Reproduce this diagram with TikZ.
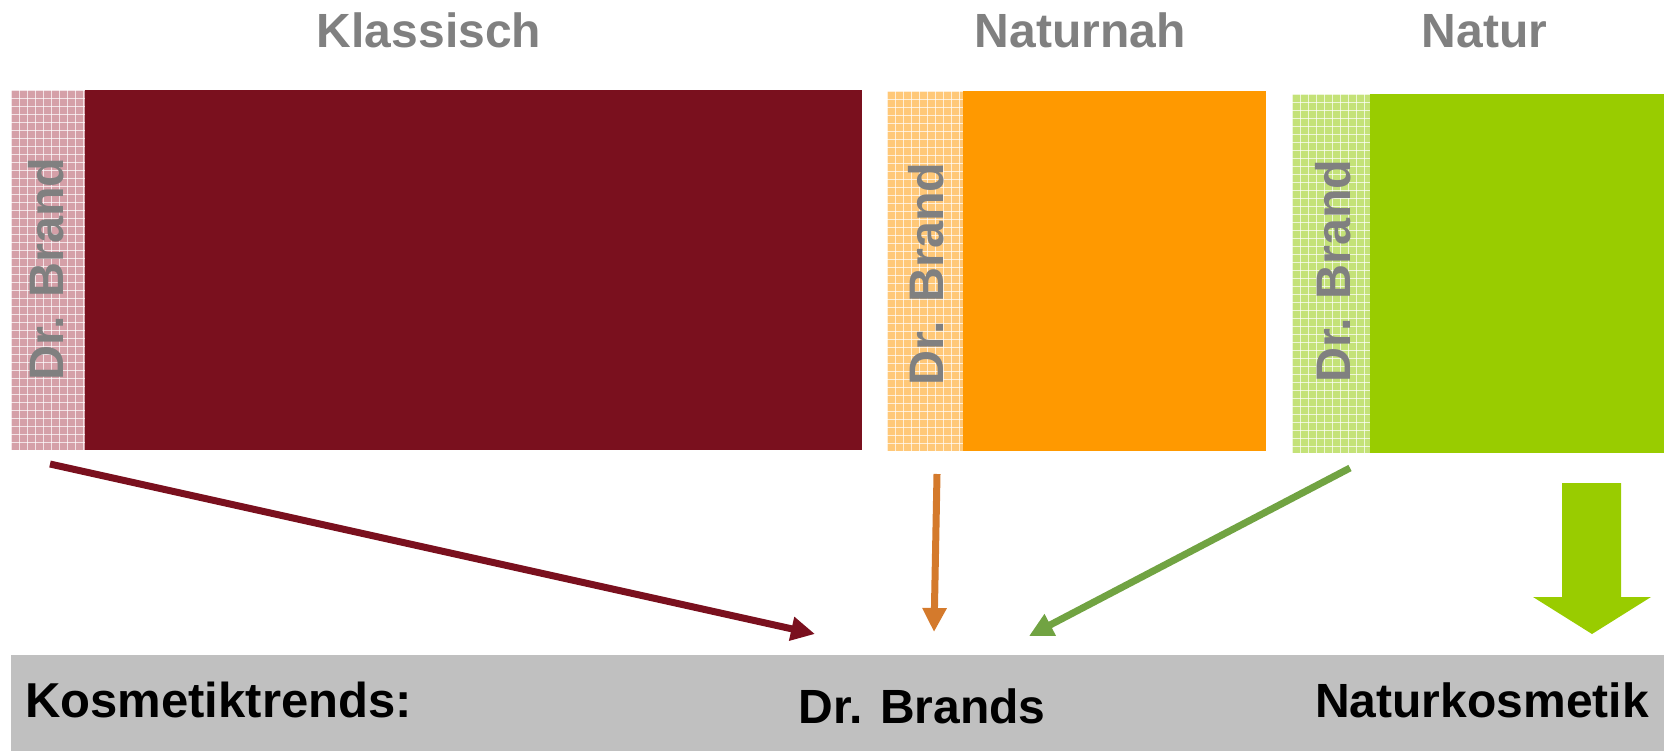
\documentclass[tikz,border=0pt]{standalone}
\usepackage{fontspec}
\setmainfont{Liberation Sans}
\usetikzlibrary{arrows.meta}
\definecolor{kred}{HTML}{7A101E}
\definecolor{korange}{HTML}{FF9900}
\definecolor{kgreen}{HTML}{99CC00}
\definecolor{kgray}{HTML}{808080}
\definecolor{kbar}{HTML}{C0C0C0}
\definecolor{pred}{HTML}{D5A0A8}
\definecolor{porange}{HTML}{FFC878}
\definecolor{pgreen}{HTML}{C4E278}
\definecolor{aorange}{HTML}{D47A2C}
\definecolor{agreen}{HTML}{71A342}
\newcommand\kpatstrip[5]{%
  \begin{scope}
    \clip (#1,#2) rectangle (#3,#4);
    \fill[#5] (#1,#2) rectangle (#3,#4);
    \foreach \xx in {0,8,...,96} {\draw[white,line width=0.8pt,opacity=0.7] ({#1+\xx},#2) -- ({#1+\xx},#4);}
    \foreach \yy in {0,8,...,368} {\draw[white,line width=0.8pt,opacity=0.7] (#1,{#2+\yy}) -- (#3,{#2+\yy});}
  \end{scope}}
\begin{document}
\begin{tikzpicture}[x=1pt,y=-1pt,
  title/.style={font=\fontsize{48}{50}\selectfont\bfseries,text=kgray,anchor=base,inner sep=0pt},
  brand/.style={font=\fontsize{48.5}{50}\selectfont\bfseries,text=kgray,anchor=base,rotate=90,inner sep=0pt},
  bottom/.style={font=\fontsize{48}{50}\selectfont\bfseries,text=black,inner sep=0pt},
  thinarrow/.style={line width=7pt,-{Triangle[length=24pt,width=23pt]}}]
\useasboundingbox (0,0) rectangle (1664,751);
% bar
\fill[kbar] (11,655) rectangle (1664,751);
% blocks
\kpatstrip{11}{90}{85}{450}{pred}
\fill[kred] (85,90) rectangle (862,450);
\kpatstrip{887}{91}{963}{451}{porange}
\fill[korange] (963,91) rectangle (1266,451);
\kpatstrip{1292}{94}{1370}{453}{pgreen}
\fill[kgreen] (1370,94) rectangle (1664,453);
% titles
\node[title] (t1) at (429,48) {Klassisch};
\node[title] (t2) at (1080,48) {Naturnah};
\node[title] (t3) at (1484.5,48) {Natur};
% vertical labels
\node[brand] (b1) at (63,269) {Dr. Brand};
\node[brand] (b2) at (943,274) {Dr. Brand};
\node[brand] (b3) at (1350,271) {Dr. Brand};
% bottom texts
\node[bottom,anchor=base west,font=\fontsize{49}{50}\selectfont\bfseries] (k) at (25,717) {Kosmetiktrends:};
\node[bottom,anchor=base] (d) at (922,723) {Dr. Brands};
\node[bottom,anchor=base] (n) at (1482,717) {Naturkosmetik};
% arrows
\coordinate (a1s) at (50,464);
\coordinate (a1e) at (815,634);
\coordinate (a2s) at (937,474);
\coordinate (a2e) at (934,632);
\coordinate (a3s) at (1350,468);
\coordinate (a3e) at (1029,636);
\draw[thinarrow,kred] (a1s) -- (a1e);
\draw[thinarrow,aorange] (a2s) -- (a2e);
\draw[thinarrow,agreen] (a3s) -- (a3e);
% block arrow
\fill[kgreen] (1562,483) -- (1621,483) -- (1621,597) -- (1651,597) -- (1592,634) -- (1533,597) -- (1562,597) -- cycle;
\end{tikzpicture}
\end{document}
